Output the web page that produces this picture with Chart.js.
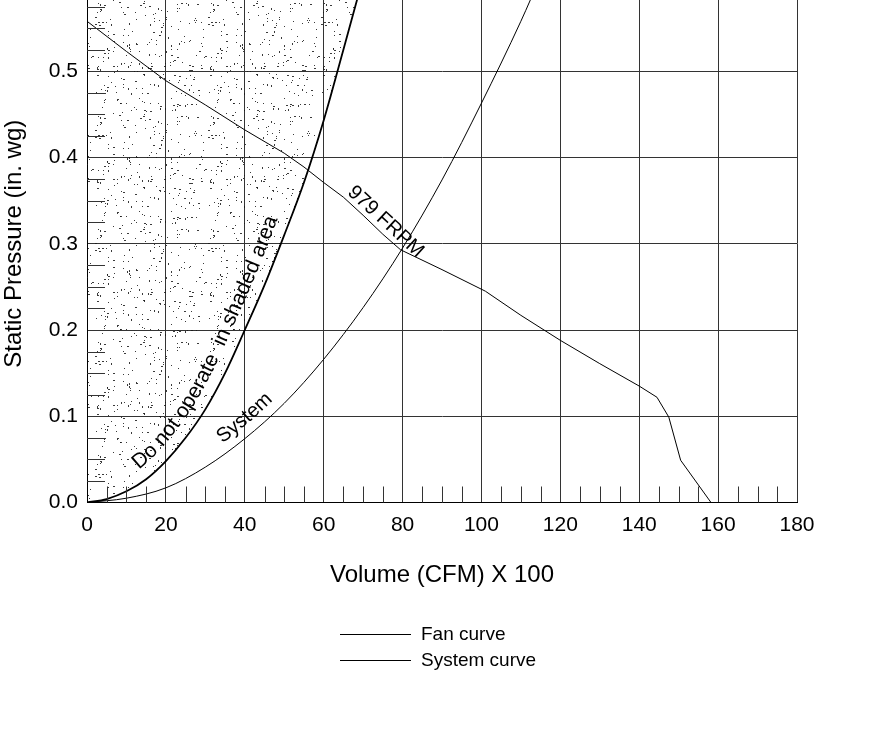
<!DOCTYPE html>
<html>
<head>
<meta charset="utf-8">
<script src="https://cdn.jsdelivr.net/npm/chart.js@4.4.0/dist/chart.umd.min.js"></script>
<style>
    html, body { margin: 0; padding: 0; background: #fff; overflow: hidden; width: 886px; height: 750px; }
    #caixa { position: absolute; left: 0; top: -15px; width: 886px; height: 765px; }
    #legenda { position: absolute; left: 0; top: 0; width: 886px; font-family: "Liberation Sans", Arial, sans-serif; font-size: 19px; color: #000; }
    .item { position: absolute; left: 340px; height: 22px; line-height: 22px; white-space: nowrap; }
    .item span.linha { display: inline-block; width: 71px; height: 1px; background: #000; vertical-align: middle; margin-right: 10px; }
</style>
</head>
<body>
<div id="caixa"><canvas id="grafico"></canvas></div>
<div id="legenda"></div>
<script>
// Dados (volume em centenas de CFM, pressão estática em in. wg)
const volumeTicks = [0, 20, 40, 60, 80, 100, 120, 140, 160, 180];
const pressureTicks = [0, 0.1, 0.2, 0.3, 0.4, 0.5, 0.6];

const fanVolume   = [0, 10, 20, 30, 40, 50, 55, 60, 65, 70, 75, 79.5, 90, 101, 110, 120, 130, 140, 144.5, 147.5, 150.5, 158.2];
const fanPressure = [0.558, 0.523, 0.489, 0.461, 0.432, 0.405, 0.389, 0.371, 0.354, 0.333, 0.311, 0.293, 0.27, 0.245, 0.217, 0.188, 0.161, 0.135, 0.122, 0.099, 0.049, 0];

const systemVolume   = [0, 10, 20, 30, 40, 50, 60, 70, 80, 90, 100, 110, 115];
const systemPressure = [0, 0.005, 0.017, 0.041, 0.074, 0.115, 0.166, 0.226, 0.295, 0.374, 0.463, 0.558, 0.61];

// limite da zona pontilhada ("Do not operate")
const limitVolume   = [0, 5, 10, 15, 20, 25, 30, 35, 40, 45, 50, 55, 60, 65, 69.5];
const limitPressure = [0, 0.004, 0.013, 0.027, 0.048, 0.075, 0.108, 0.15, 0.2, 0.252, 0.31, 0.371, 0.443, 0.525, 0.6];

const legendLabels = ['Fan curve', 'System curve'];

const FONTE = '"Liberation Sans", Arial, sans-serif';

function pares(xs, ys) {
    return xs.map((x, i) => ({ x: x, y: ys[i] }));
}

// textura de pontinhos para a área proibida
function criarPontilhado() {
    const c = document.createElement('canvas');
    c.width = 113; c.height = 113;
    const g = c.getContext('2d');
    let semente = 12345;
    const prox = () => (semente = (semente * 16807) % 2147483647) / 2147483647;
    g.fillStyle = 'rgba(25,25,25,0.85)';
    for (let i = 0; i < 250; i++) {
        const px = Math.floor(prox() * 113);
        const py = Math.floor(prox() * 113);
        const r = prox();
        g.fillRect(px, py, r > 0.8 ? 2 : 1, r < 0.15 ? 2 : 1);
    }
    return g.createPattern(c, 'repeat');
}

// marcas menores dentro da área (eixo x a cada 5, eixo y a cada 0.025)
const marcasMenores = {
    id: 'marcasMenores',
    afterDatasetsDraw(chart) {
        const { ctx, chartArea, scales: { x, y } } = chart;
        ctx.save();
        ctx.strokeStyle = '#333';
        ctx.lineWidth = 1;
        ctx.beginPath();
        for (let v = 5; v < 180; v += 5) {
            if (v % 20 === 0) continue;
            const px = Math.round(x.getPixelForValue(v)) + 0.5;
            ctx.moveTo(px, chartArea.bottom);
            ctx.lineTo(px, chartArea.bottom - 16);
        }
        for (let i = 1; i < 24; i++) {
            if (i % 4 === 0) continue;
            const py = Math.round(y.getPixelForValue(i * 0.025)) + 0.5;
            ctx.moveTo(chartArea.left, py);
            ctx.lineTo(chartArea.left + 18, py);
        }
        ctx.stroke();
        ctx.restore();
    }
};

// amostra a curva desenhada (bezier do Chart.js) em pixels
function amostrarCurva(meta) {
    const pts = meta.data;
    const out = [];
    for (let i = 0; i < pts.length - 1; i++) {
        const a = pts[i], b = pts[i + 1];
        const c1x = a.cp2x ?? a.x, c1y = a.cp2y ?? a.y;
        const c2x = b.cp1x ?? b.x, c2y = b.cp1y ?? b.y;
        for (let k = 0; k < 12; k++) {
            const t = k / 12, u = 1 - t;
            out.push({
                x: u * u * u * a.x + 3 * u * u * t * c1x + 3 * u * t * t * c2x + t * t * t * b.x,
                y: u * u * u * a.y + 3 * u * u * t * c1y + 3 * u * t * t * c2y + t * t * t * b.y
            });
        }
    }
    const ult = pts[pts.length - 1];
    out.push({ x: ult.x, y: ult.y });
    return out;
}

function textoNaCurva(chart, idx, texto, inicioX, afastamento) {
    const ctx = chart.ctx;
    const p = amostrarCurva(chart.getDatasetMeta(idx));
    // desloca a curva para o lado "de cima" do texto
    const q = p.map((pt, i) => {
        const a = p[Math.max(i - 1, 0)], b = p[Math.min(i + 1, p.length - 1)];
        const dx = b.x - a.x, dy = b.y - a.y, n = Math.hypot(dx, dy) || 1;
        return { x: pt.x + afastamento * dy / n, y: pt.y - afastamento * dx / n };
    });
    const alvo = chart.scales.x.getPixelForValue(inicioX);
    let i0 = p.findIndex(pt => pt.x >= alvo);
    if (i0 < 0) i0 = 0;
    const cum = [0];
    for (let i = i0 + 1; i < q.length; i++) {
        cum.push(cum[cum.length - 1] + Math.hypot(q[i].x - q[i - 1].x, q[i].y - q[i - 1].y));
    }
    const ponto = s => {
        let j = 0;
        while (j < cum.length - 2 && cum[j + 1] < s) j++;
        const a = q[i0 + j], b = q[i0 + j + 1];
        const t = (s - cum[j]) / ((cum[j + 1] - cum[j]) || 1);
        return { x: a.x + (b.x - a.x) * t, y: a.y + (b.y - a.y) * t };
    };
    let s = 0;
    for (const ch of texto) {
        const w = ctx.measureText(ch).width;
        const a = ponto(s), b = ponto(s + w), m = ponto(s + w / 2);
        ctx.save();
        ctx.translate(m.x, m.y);
        ctx.rotate(Math.atan2(b.y - a.y, b.x - a.x));
        ctx.fillText(ch, 0, 0);
        ctx.restore();
        s += w;
    }
}

function interpolar(xs, ys, v) {
    for (let i = 0; i < xs.length - 1; i++) {
        if (v >= xs[i] && v <= xs[i + 1]) {
            return ys[i] + (ys[i + 1] - ys[i]) * (v - xs[i]) / (xs[i + 1] - xs[i]);
        }
    }
    return ys[ys.length - 1];
}

function textoReto(chart, xs, ys, texto, de, ate, afastamento) {
    const { ctx, scales: { x, y } } = chart;
    const ax = x.getPixelForValue(de), ay = y.getPixelForValue(interpolar(xs, ys, de));
    const bx = x.getPixelForValue(ate), by = y.getPixelForValue(interpolar(xs, ys, ate));
    const ang = Math.atan2(by - ay, bx - ax);
    ctx.save();
    ctx.translate(ax + afastamento * Math.sin(ang), ay - afastamento * Math.cos(ang));
    ctx.rotate(ang);
    ctx.textAlign = 'left';
    ctx.fillText(texto, 0, 0);
    ctx.restore();
}

const rotulosCurvas = {
    id: 'rotulosCurvas',
    afterDatasetsDraw(chart) {
        const ctx = chart.ctx;
        ctx.save();
        ctx.fillStyle = '#000';
        ctx.textAlign = 'center';
        ctx.textBaseline = 'alphabetic';
        ctx.font = '21px ' + FONTE;
        textoNaCurva(chart, 0, 'Do not operate  in shaded area', 15, 12);
        ctx.font = '20px ' + FONTE;
        textoNaCurva(chart, 2, 'System', 35, 10);
        textoReto(chart, fanVolume, fanPressure, '979 FRPM', 65, 79.5, 5);
        ctx.restore();
    }
};

const grafico = new Chart(document.getElementById('grafico'), {
    type: 'line',
    data: {
        datasets: [
            {
                label: 'limite',
                data: pares(limitVolume, limitPressure),
                borderColor: '#000',
                borderWidth: 1.8,
                pointRadius: 0,
                cubicInterpolationMode: 'monotone',
                fill: 'end',
                backgroundColor: criarPontilhado()
            },
            {
                label: legendLabels[0],
                data: pares(fanVolume, fanPressure),
                borderColor: '#000',
                borderWidth: 1,
                pointRadius: 0,
                tension: 0,
                fill: false
            },
            {
                label: legendLabels[1],
                data: pares(systemVolume, systemPressure),
                borderColor: '#000',
                borderWidth: 1,
                pointRadius: 0,
                cubicInterpolationMode: 'monotone',
                fill: false
            }
        ]
    },
    options: {
        responsive: true,
        maintainAspectRatio: false,
        animation: false,
        events: [],
        layout: { padding: { top: 0, right: 89, bottom: 152.5, left: 0 } },
        plugins: { legend: { display: false }, tooltip: { enabled: false } },
        scales: {
            x: {
                type: 'linear',
                min: 0,
                max: 180,
                afterBuildTicks: s => { s.ticks = volumeTicks.map(v => ({ value: v })); },
                afterFit: s => { s.height = 95; s.paddingLeft = 0; s.paddingRight = 0; },
                grid: { color: '#333', lineWidth: 1, drawTicks: false },
                border: { color: '#000', width: 1 },
                ticks: { padding: 10, color: '#000', autoSkip: false, maxRotation: 0, font: { size: 21, family: FONTE } },
                title: { display: true, text: 'Volume (CFM) X 100', color: '#000', font: { size: 24, family: FONTE }, padding: { top: 0, bottom: 8 } }
            },
            y: {
                type: 'linear',
                min: 0,
                max: 0.6,
                afterBuildTicks: s => { s.ticks = pressureTicks.map(v => ({ value: v })); },
                afterFit: s => { s.width = 87; s.paddingTop = 0; s.paddingBottom = 0; },
                grid: { color: '#333', lineWidth: 1, drawTicks: false },
                border: { color: '#000', width: 1 },
                ticks: { padding: 9, color: '#000', font: { size: 21, family: FONTE }, callback: v => Number(v).toFixed(1) },
                title: { display: true, text: 'Static Pressure (in. wg)', color: '#000', font: { size: 24, family: FONTE }, padding: { top: 0, bottom: 0 } }
            }
        }
    },
    plugins: [marcasMenores, rotulosCurvas]
});

// legenda feita à mão, uma linha por série
const legenda = document.getElementById('legenda');
legendLabels.forEach((nome, i) => {
    const item = document.createElement('div');
    item.className = 'item';
    item.style.top = (623 + i * 26) + 'px';
    item.innerHTML = '<span class="linha"></span>' + nome;
    legenda.appendChild(item);
});
</script>
</body>
</html>
